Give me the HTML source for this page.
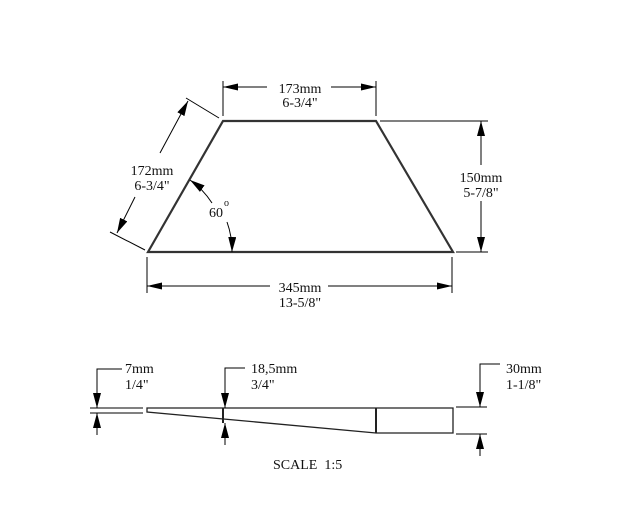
<!DOCTYPE html>
<html><head><meta charset="utf-8"><style>
html,body{margin:0;padding:0;background:#fff;}
svg{display:block;}
text{font-family:"Liberation Serif",serif;font-size:14px;fill:#111;}
</style></head><body>
<svg width="644" height="505" viewBox="0 0 644 505" xmlns="http://www.w3.org/2000/svg">
<defs>
<marker id="a" viewBox="0 0 10 10" preserveAspectRatio="none" refX="10" refY="5" markerWidth="15" markerHeight="7" markerUnits="userSpaceOnUse" orient="auto-start-reverse"><path d="M0,0 L10,5 L0,10 z" fill="#000"/></marker>
<marker id="b" viewBox="0 0 10 10" preserveAspectRatio="none" refX="10" refY="5" markerWidth="15" markerHeight="8" markerUnits="userSpaceOnUse" orient="auto-start-reverse"><path d="M0,0 L10,5 L0,10 z" fill="#000"/></marker>
</defs>
<g stroke="#333" fill="none">
<path d="M223,121 L376,121 L453,252 L148,252 Z" stroke-width="2.2"/>
</g>
<g stroke="#000" stroke-width="1" fill="none">
<line x1="223" y1="81" x2="223" y2="116"/>
<line x1="376" y1="81" x2="376" y2="116"/>
<line x1="267" y1="87" x2="223" y2="87" marker-end="url(#a)"/>
<line x1="331" y1="87" x2="376" y2="87" marker-end="url(#a)"/>
<line x1="380" y1="121" x2="488" y2="121"/>
<line x1="456" y1="252" x2="488" y2="252"/>
<line x1="481" y1="165" x2="481" y2="121" marker-end="url(#b)"/>
<line x1="481" y1="201" x2="481" y2="252" marker-end="url(#b)"/>
<line x1="147" y1="257" x2="147" y2="293"/>
<line x1="452" y1="257" x2="452" y2="293"/>
<line x1="270" y1="286" x2="147" y2="286" marker-end="url(#a)"/>
<line x1="328" y1="286" x2="452" y2="286" marker-end="url(#a)"/>
<line x1="186" y1="98" x2="219" y2="118"/>
<line x1="110" y1="232" x2="145" y2="250"/>
<line x1="160" y1="153" x2="188" y2="101" marker-end="url(#b)"/>
<line x1="135" y1="197" x2="117" y2="233" marker-end="url(#b)"/>
<path d="M212,203 A83,83 0 0 0 190,180" marker-end="url(#b)"/>
<path d="M227,222 A84,84 0 0 1 232,252" marker-end="url(#b)"/>
</g>
<text x="300" y="93" text-anchor="middle">173mm</text>
<text x="300" y="107" text-anchor="middle">6-3/4"</text>
<text x="481" y="182" text-anchor="middle">150mm</text>
<text x="481" y="197" text-anchor="middle">5-7/8"</text>
<text x="300" y="292" text-anchor="middle">345mm</text>
<text x="300" y="307" text-anchor="middle">13-5/8"</text>
<text x="152" y="175" text-anchor="middle">172mm</text>
<text x="152" y="190" text-anchor="middle">6-3/4"</text>
<text x="209" y="217">60</text><text x="224" y="206" style="font-size:10px">o</text>

<g stroke="#222" fill="none" stroke-width="1.3">
<path d="M147,408 L453,408 L453,433 L376,433 L147,412 Z"/>
<line x1="223" y1="408" x2="223" y2="423" stroke-width="2"/>
<line x1="376" y1="408" x2="376" y2="433" stroke-width="2"/>
</g>
<g stroke="#000" stroke-width="1" fill="none">
<line x1="90" y1="408" x2="143" y2="408"/>
<line x1="90" y1="413" x2="143" y2="413"/>
<path d="M122,369 L97,369 L97,408" marker-end="url(#b)"/>
<line x1="97" y1="435" x2="97" y2="413" marker-end="url(#b)"/>
<path d="M245,368 L225,368 L225,408" marker-end="url(#b)"/>
<line x1="225" y1="445" x2="225" y2="423" marker-end="url(#b)"/>
<line x1="456" y1="407" x2="487" y2="407"/>
<line x1="456" y1="434" x2="487" y2="434"/>
<path d="M500,364 L480,364 L480,407" marker-end="url(#b)"/>
<line x1="480" y1="456" x2="480" y2="434" marker-end="url(#b)"/>
</g>
<text x="125" y="373">7mm</text>
<text x="125" y="389">1/4"</text>
<text x="251" y="373">18,5mm</text>
<text x="251" y="389">3/4"</text>
<text x="506" y="373">30mm</text>
<text x="506" y="389">1-1/8"</text>
<text x="273" y="469">SCALE&#160;&#160;1:5</text>
</svg>
</body></html>
